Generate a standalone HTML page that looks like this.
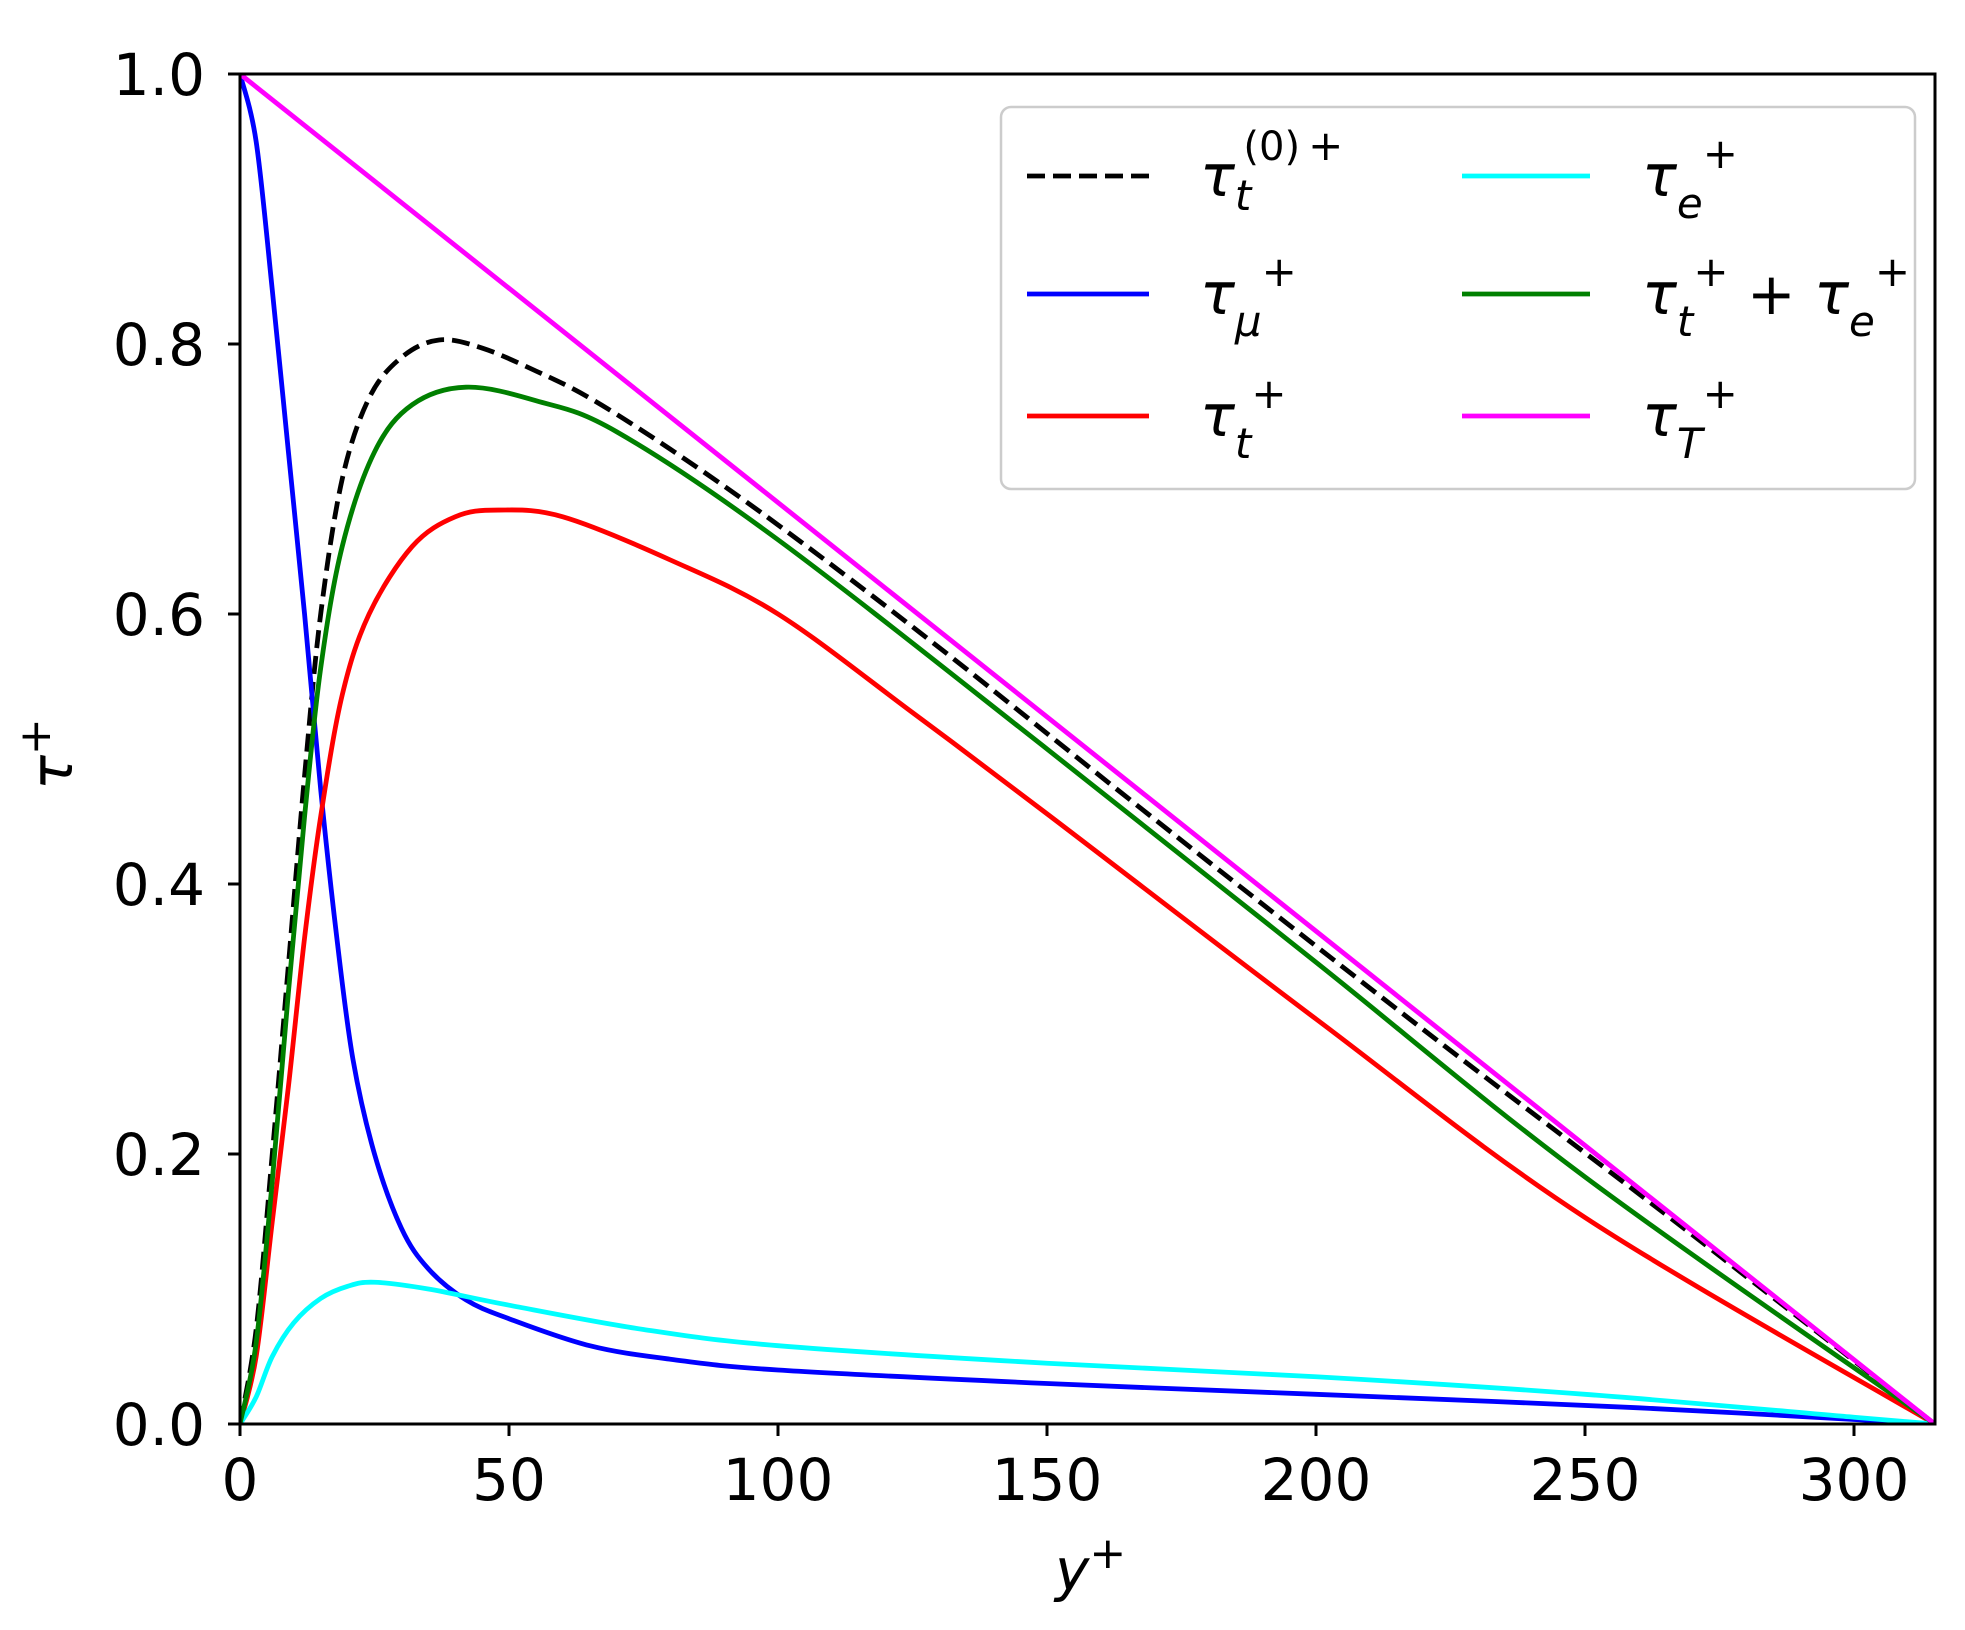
<!DOCTYPE html>
<html><head><meta charset="utf-8"><style>
html,body{margin:0;padding:0;background:#fff;}
svg{display:block;}
text{font-family:"DejaVu Sans","Liberation Sans",sans-serif;fill:#000;}
</style></head><body>
<svg id="s" width="1965" height="1630" viewBox="0 0 1965 1630" xmlns="http://www.w3.org/2000/svg">
<rect width="1965" height="1630" fill="#fff"/>
<defs><clipPath id="c"><rect x="240" y="74" width="1695" height="1350"/></clipPath></defs>
<g id="curves" clip-path="url(#c)" fill="none" stroke-width="4.8" stroke-linejoin="round"></g>
<rect x="240" y="74" width="1695" height="1350" fill="none" stroke="#000" stroke-width="3"/>
<g stroke="#000" stroke-width="3">
<line x1="228" y1="74" x2="240" y2="74"/><line x1="228" y1="344" x2="240" y2="344"/><line x1="228" y1="614" x2="240" y2="614"/><line x1="228" y1="884" x2="240" y2="884"/><line x1="228" y1="1154" x2="240" y2="1154"/><line x1="228" y1="1424" x2="240" y2="1424"/>
<line x1="240" y1="1424" x2="240" y2="1436"/><line x1="509" y1="1424" x2="509" y2="1436"/><line x1="778" y1="1424" x2="778" y2="1436"/><line x1="1047" y1="1424" x2="1047" y2="1436"/><line x1="1316" y1="1424" x2="1316" y2="1436"/><line x1="1585" y1="1424" x2="1585" y2="1436"/><line x1="1854" y1="1424" x2="1854" y2="1436"/>
</g>
<g font-size="58" text-anchor="end">
<text x="205" y="95">1.0</text><text x="205" y="365">0.8</text><text x="205" y="635">0.6</text><text x="205" y="905">0.4</text><text x="205" y="1175">0.2</text><text x="205" y="1445">0.0</text>
</g>
<g font-size="58" text-anchor="middle">
<text x="240" y="1500">0</text><text x="509" y="1500">50</text><text x="778" y="1500">100</text><text x="1047" y="1500">150</text><text x="1316" y="1500">200</text><text x="1585" y="1500">250</text><text x="1854" y="1500">300</text>
</g>
<text x="1055" y="1590" font-size="58" font-style="italic">y<tspan font-style="normal" dy="-22" font-size="44">+</tspan></text>
<text transform="translate(72,790) rotate(-90)" font-size="58" font-style="italic">τ<tspan font-style="normal" dy="-22" font-size="44">+</tspan></text>
<rect x="1001" y="107" width="914" height="382" rx="10" fill="#fff" fill-opacity="0.8" stroke="#ccc" stroke-width="2.5"/>
<g stroke-width="4.8">
<line x1="1027" y1="176" x2="1149" y2="176" stroke="#000" stroke-dasharray="18,8"/>
<line x1="1027" y1="294" x2="1149" y2="294" stroke="#0000ff"/>
<line x1="1027" y1="416" x2="1149" y2="416" stroke="#ff0000"/>
<line x1="1462" y1="176" x2="1590" y2="176" stroke="#00ffff"/>
<line x1="1462" y1="294" x2="1590" y2="294" stroke="#008000"/>
<line x1="1462" y1="416" x2="1590" y2="416" stroke="#ff00ff"/>
</g>
<g font-size="58">
<text x="1200" y="196" font-style="italic">τ<tspan dy="14" font-size="42">t</tspan><tspan dy="-50" dx="-8" font-size="40" font-style="normal">(0)</tspan><tspan dx="8" font-size="42" font-style="normal">+</tspan></text>
<text x="1200" y="314" font-style="italic">τ<tspan dy="22" font-size="42">μ</tspan><tspan dy="-50" font-size="42" font-style="normal">+</tspan></text>
<text x="1200" y="436" font-style="italic">τ<tspan dy="22" font-size="42">t</tspan><tspan dy="-50" font-size="42" font-style="normal">+</tspan></text>
<text x="1642" y="196" font-style="italic">τ<tspan dy="22" font-size="42">e</tspan><tspan dy="-50" font-size="42" font-style="normal">+</tspan></text>
<text x="1642" y="314" font-style="italic">τ<tspan dy="22" font-size="42">t</tspan><tspan dy="-50" font-size="42" font-style="normal">+</tspan><tspan dy="28" font-style="normal"> + </tspan><tspan>τ</tspan><tspan dy="22" font-size="42">e</tspan><tspan dy="-50" font-size="42" font-style="normal">+</tspan></text>
<text x="1642" y="436" font-style="italic">τ<tspan dy="22" font-size="42">T</tspan><tspan dy="-50" font-size="42" font-style="normal">+</tspan></text>
</g>
</svg>
<script>
var X=function(x){return 240+x*5.38}, Y=function(v){return 1424-v*1350};
function path(pts){
  var P=pts.map(function(p){return [X(p[0]),Y(p[1])]});
  var d="M"+P[0][0]+","+P[0][1];
  for(var i=0;i<P.length-1;i++){
    var p0=P[i-1]||P[i],p1=P[i],p2=P[i+1],p3=P[i+2]||p2;
    var c1=[p1[0]+(p2[0]-p0[0])/6,p1[1]+(p2[1]-p0[1])/6];
    var c2=[p2[0]-(p3[0]-p1[0])/6,p2[1]-(p3[1]-p1[1])/6];
    d+="C"+c1+" "+c2+" "+p2;
  }
  return d;
}
var S={
 magenta:[[0,1],[315,0]],
 cyan:[[0,0],[3,0.02],[6,0.05],[10,0.075],[15,0.093],[20,0.102],[25,0.105],[35,0.1],[50,0.088],[75,0.07],[100,0.058],[150,0.045],[200,0.035],[250,0.022],[300,0.005],[315,0]],
 blue:[[0,1],[3,0.95],[6,0.84],[9,0.72],[12,0.6],[15,0.47],[18,0.36],[21,0.27],[25,0.2],[30,0.145],[35,0.115],[42,0.092],[50,0.078],[65,0.058],[80,0.048],[100,0.04],[150,0.03],[200,0.022],[260,0.012],[315,0]],
 red:[[0,0],[3,0.05],[6,0.15],[9,0.25],[12,0.36],[15,0.45],[19,0.54],[24,0.6],[32,0.65],[40,0.672],[48,0.677],[60,0.672],[80,0.64],[100,0.6],[125,0.527],[150,0.452],[200,0.3],[250,0.153],[315,0]],
 green:[[0,0],[3,0.06],[6,0.18],[9,0.32],[12,0.45],[15,0.56],[19,0.65],[25,0.72],[32,0.755],[42,0.768],[55,0.758],[70,0.735],[100,0.655],[150,0.5],[200,0.342],[250,0.183],[315,0]],
 black:[[0,0],[3,0.07],[6,0.2],[9,0.34],[12,0.48],[15,0.6],[19,0.7],[24,0.76],[30,0.79],[37,0.803],[45,0.797],[55,0.78],[65,0.76],[80,0.722],[100,0.666],[130,0.575],[170,0.448],[220,0.292],[270,0.14],[315,0]]
};
var col={magenta:"#ff00ff",cyan:"#00ffff",blue:"#0000ff",red:"#ff0000",green:"#008000",black:"#000"};
var g=document.getElementById("curves"),ns="http://www.w3.org/2000/svg";
["black","blue","red","cyan","green","magenta"].forEach(function(k){
  var p=document.createElementNS(ns,"path");
  p.setAttribute("d",path(S[k]));p.setAttribute("stroke",col[k]);
  if(k=="black")p.setAttribute("stroke-dasharray","18,8");
  g.appendChild(p);
});
</script>
</body></html>
